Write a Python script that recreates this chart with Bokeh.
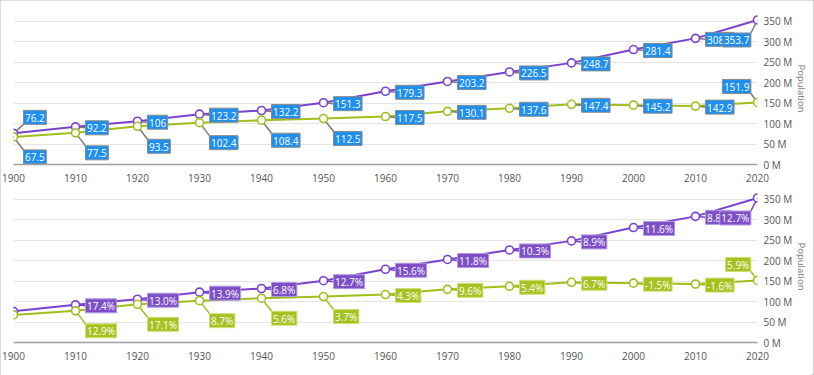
from bokeh.plotting import figure
from bokeh.models import Range1d, ColumnDataSource, FixedTicker
from bokeh.layouts import column
from bokeh.embed import file_html
from bokeh.resources import INLINE
from bokeh.core.properties import value

# ---------------- data ----------------
years = [1900, 1910, 1920, 1930, 1940, 1950, 1960, 1970, 1980, 1990, 2000, 2010, 2020]
series_a = [76.2, 92.2, 106.0, 123.2, 132.2, 151.3, 179.3, 203.2, 226.5, 248.7, 281.4, 308.7, 353.7]
series_b = [67.5, 77.5, 93.5, 102.4, 108.4, 112.5, 117.5, 130.1, 137.6, 147.4, 145.2, 142.9, 151.9]
labels_a = ["76.2", "92.2", "106", "123.2", "132.2", "151.3", "179.3", "203.2", "226.5",
            "248.7", "281.4", "308.7", "353.7"]
labels_b = ["67.5", "77.5", "93.5", "102.4", "108.4", "112.5", "117.5", "130.1", "137.6",
            "147.4", "145.2", "142.9", "151.9"]
growth_a = ["", "17.4%", "13.0%", "13.9%", "6.8%", "12.7%", "15.6%", "11.8%", "10.3%",
            "8.9%", "11.6%", "8.8%", "12.7%"]
growth_b = ["", "12.9%", "17.1%", "8.7%", "5.6%", "3.7%", "4.3%", "9.6%", "5.4%",
            "6.7%", "-1.5%", "-1.6%", "5.9%"]
y_ticks = [0, 50, 100, 150, 200, 250, 300, 350]
y_tick_labels = ["0 M", "50 M", "100 M", "150 M", "200 M", "250 M", "300 M", "350 M"]
y_title = "Population"

# ---------------- style ----------------
PURPLE = "#7a42cf"
GREEN = "#9fbf1d"
PURPLE_LBL = "#7e4fc9"
GREEN_LBL = "#a6c21f"
BLUE_LBL = "#1f8ff0"
FONT = "Open Sans"
FONT_PX = 10
FW, FH = 744, 152
YMAX = 372
BOX_H = 14

# approximate advance widths (em) of Open Sans, used to size label boxes
CHAR_EM = {".": 0.266, "%": 0.828, "-": 0.322}

# label placement codes (style only)
place_top_a = ["ar", "r", "r", "r", "r", "r", "r", "r", "r", "r", "r", "r", "bl"]
place_top_b = ["br", "br", "br", "br", "br", "br", "r", "r", "r", "r", "r", "r", "al"]
place_bot_a = [None, "r", "r", "r", "r", "r", "r", "r", "r", "r", "r", "r", "bl"]
place_bot_b = [None, "br", "br", "br", "br", "br", "r", "r", "r", "r", "r", "r", "al"]

DY = {"r": 1, "br": 20, "ar": -16, "bl": 20, "al": -16}


def text_w(t):
    return sum(CHAR_EM.get(c, 0.572) for c in t) * FONT_PX


def px_to_dx(px):
    return px * 120.0 / FW


def px_to_dy(px):
    return -px * YMAX / FH


def draw_labels(p, xs, ys, texts, places, fill, border, conn):
    cx0, cy0, cx1, cy1 = [], [], [], []
    boxes = []
    for x, y, t, pl in zip(xs, ys, texts, places):
        if pl is None or t == "":
            continue
        dy = DY[pl]
        w = text_w(t) + 3
        left_side = pl in ("bl", "al")
        if left_side:
            cxp = -(6.6 + w / 2.0)
            ex = -6.6
        else:
            cxp = 10 + w / 2.0
            ex = 10
        if pl == "r":
            ey = dy
        elif pl in ("br", "bl"):
            ey = dy - BOX_H / 2.0
        else:
            ey = dy + BOX_H / 2.0
        cx0.append(x)
        cy0.append(y)
        cx1.append(x + px_to_dx(ex))
        cy1.append(y + px_to_dy(ey))
        boxes.append((x + px_to_dx(cxp), y + px_to_dy(dy), w, t))
    p.segment(x0=cx0, y0=cy0, x1=cx1, y1=cy1, line_color=conn, line_width=1.5)
    return boxes, fill, border


def draw_boxes(p, spec):
    boxes, fill, border = spec
    # one label at a time so that a later label covers an earlier one
    for bx, by, bw, bt in boxes:
        src = ColumnDataSource(dict(x=[bx], y=[by], w=[bw], t=[bt]))
        p.rect(x="x", y="y", width="w", height=BOX_H, width_units="screen",
               height_units="screen", source=src, fill_color=fill,
               line_color=border, line_width=1)
        p.text(x="x", y="y", text="t", source=src, text_align="center",
               text_baseline="middle", text_color="white", y_offset=0.5,
               text_font=value(FONT), text_font_size=f"{FONT_PX}px")


def make_fig(top_border, bottom_border):
    p = figure(frame_width=FW, frame_height=FH, x_range=Range1d(1900, 2020),
               y_range=Range1d(0, YMAX), y_axis_location="right",
               output_backend="svg", toolbar_location=None,
               min_border_left=13, min_border_right=0,
               min_border_top=top_border, min_border_bottom=bottom_border)
    p.outline_line_color = None
    p.xgrid.grid_line_color = None
    p.ygrid.grid_line_color = "#e6e6e6"
    p.ygrid.ticker = FixedTicker(ticks=y_ticks)
    xa = p.xaxis[0]
    xa.ticker = FixedTicker(ticks=years)
    xa.axis_line_color = "#a0a0a0"
    xa.axis_line_width = 1.5
    xa.major_tick_line_color = None
    xa.minor_tick_line_color = None
    xa.major_tick_out = 0
    xa.major_tick_in = 0
    xa.major_label_text_color = "#555555"
    xa.major_label_text_font = FONT
    xa.major_label_text_font_size = "10px"
    xa.major_label_standoff = 9
    ya = p.yaxis[0]
    ya.ticker = FixedTicker(ticks=y_ticks)
    ya.major_label_overrides = {t: l for t, l in zip(y_ticks, y_tick_labels)}
    ya.axis_line_color = None
    ya.major_tick_line_color = None
    ya.minor_tick_line_color = None
    ya.major_tick_out = 0
    ya.major_tick_in = 0
    ya.major_label_text_color = "#555555"
    ya.major_label_text_font = FONT
    ya.major_label_text_font_size = "10px"
    ya.major_label_standoff = 6
    ya.axis_label = y_title
    ya.axis_label_orientation = "vertical"
    ya.axis_label_text_color = "#777777"
    ya.axis_label_text_font = FONT
    ya.axis_label_text_font_size = "9.5px"
    ya.axis_label_text_font_style = "normal"
    ya.axis_label_standoff = 0
    return p


def draw_series(p, ys, color):
    p.line(years, ys, line_color=color, line_width=2)


def draw_markers(p, ys, color):
    p.scatter(years, ys, marker="circle", size=8, fill_color="white",
              line_color=color, line_width=1.6)


# ---------------- top chart ----------------
p1 = make_fig(12, 23)
draw_series(p1, series_a, PURPLE)
draw_series(p1, series_b, GREEN)
sa1 = draw_labels(p1, years, series_a, labels_a, place_top_a, BLUE_LBL, "#8a8a8a", "#7a7a7a")
sb1 = draw_labels(p1, years, series_b, labels_b, place_top_b, BLUE_LBL, "#8a8a8a", "#7a7a7a")
draw_markers(p1, series_a, PURPLE)
draw_markers(p1, series_b, GREEN)
draw_boxes(p1, sa1)
draw_boxes(p1, sb1)

# ---------------- bottom chart ----------------
p2 = make_fig(3, 33)
draw_series(p2, series_a, PURPLE)
draw_series(p2, series_b, GREEN)
sa2 = draw_labels(p2, years, series_a, growth_a, place_bot_a, PURPLE_LBL, "#b49ae0", PURPLE)
sb2 = draw_labels(p2, years, series_b, growth_b, place_bot_b, GREEN_LBL, "#cfe07a", GREEN)
draw_markers(p2, series_a, PURPLE)
draw_markers(p2, series_b, GREEN)
draw_boxes(p2, sa2)
draw_boxes(p2, sb2)

layout = column(p1, p2, width=814, height=375,
                styles={"outline": "1px solid #d0d0d0", "outline-offset": "-1px"})
open("out.html", "w").write(file_html(layout, INLINE))
